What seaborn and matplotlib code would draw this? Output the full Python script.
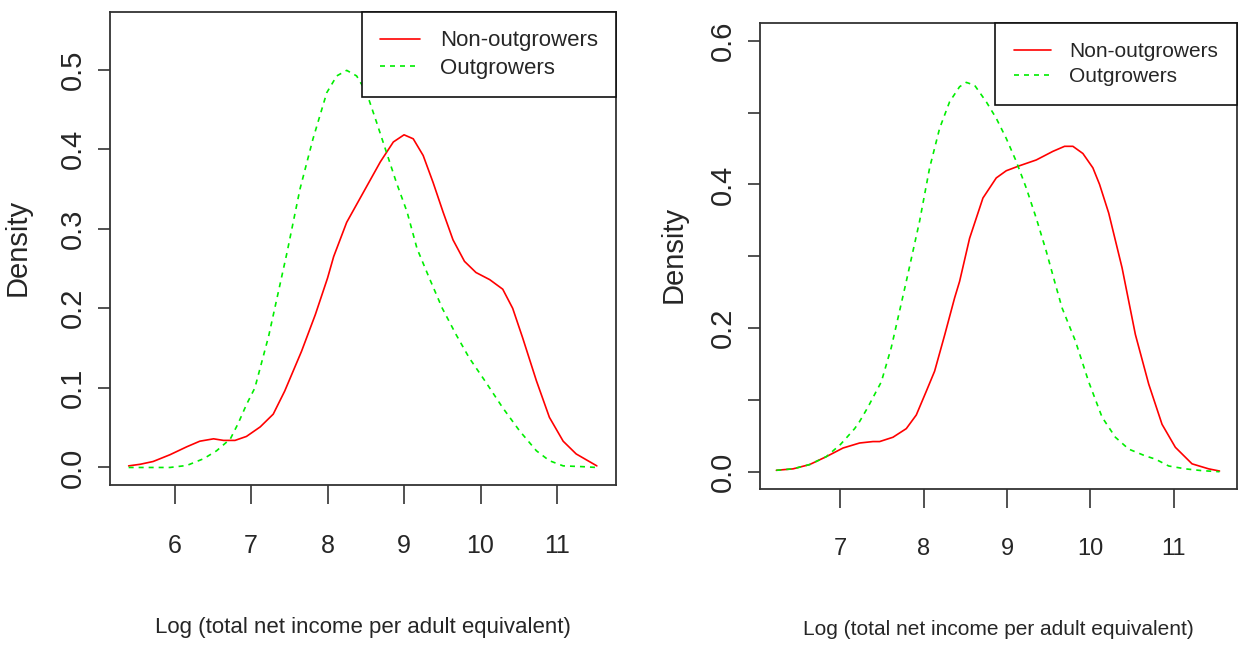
import pandas as pd
import matplotlib
matplotlib.use('Agg')
import matplotlib.pyplot as plt
import seaborn as sns

# left panel: density curves
left_x_non = [5.40, 5.55, 5.72, 5.94, 6.16, 6.33, 6.51, 6.64, 6.79, 6.94, 7.12, 7.29, 7.44, 7.66, 7.84,
              8.00, 8.08, 8.25, 8.47, 8.69, 8.86, 9.00, 9.12, 9.25, 9.38, 9.51, 9.64, 9.79, 9.94,
              10.12, 10.29, 10.42, 10.55, 10.73, 10.90, 11.08, 11.25, 11.52]
left_y_non = [0.002, 0.004, 0.0075, 0.016, 0.026, 0.033, 0.036, 0.034, 0.034, 0.039, 0.051, 0.067, 0.096, 0.146, 0.192,
              0.238, 0.265, 0.308, 0.346, 0.384, 0.409, 0.418, 0.413, 0.392, 0.358, 0.321, 0.286, 0.259, 0.245,
              0.236, 0.224, 0.200, 0.163, 0.109, 0.063, 0.033, 0.017, 0.002]
left_x_out = [5.40, 5.94, 6.16, 6.38, 6.55, 6.73, 6.83, 6.94, 7.05, 7.23, 7.47, 7.64, 7.81, 7.99,
              8.12, 8.25, 8.38, 8.51, 8.64, 8.77, 8.90, 9.04, 9.17, 9.33, 9.50, 9.68, 9.85, 10.07,
              10.29, 10.51, 10.73, 10.90, 11.08, 11.34, 11.52]
left_y_out = [0.0, 0.0, 0.0025, 0.011, 0.021, 0.036, 0.055, 0.079, 0.100, 0.165, 0.270, 0.350, 0.413, 0.471,
              0.492, 0.499, 0.492, 0.471, 0.434, 0.396, 0.358, 0.321, 0.275, 0.238, 0.200, 0.167, 0.138, 0.107,
              0.075, 0.046, 0.021, 0.0085, 0.002, 0.001, 0.0]

# right panel
right_x_non = [6.23, 6.43, 6.63, 6.83, 7.03, 7.23, 7.39, 7.47, 7.63, 7.79, 7.91, 8.03, 8.13, 8.25, 8.37,
               8.43, 8.55, 8.71, 8.87, 8.99, 9.15, 9.35, 9.55, 9.69, 9.79, 9.91, 10.03, 10.11, 10.22,
               10.38, 10.54, 10.70, 10.86, 11.02, 11.22, 11.42, 11.55]
right_y_non = [0.002, 0.004, 0.010, 0.021, 0.033, 0.040, 0.042, 0.042, 0.048, 0.060, 0.079, 0.112, 0.140, 0.190, 0.242,
               0.265, 0.325, 0.381, 0.409, 0.419, 0.426, 0.434, 0.446, 0.453, 0.453, 0.443, 0.423, 0.400, 0.360,
               0.284, 0.191, 0.122, 0.066, 0.034, 0.011, 0.004, 0.001]
right_x_out = [6.23, 6.43, 6.63, 6.83, 6.91, 7.00, 7.07, 7.17, 7.23, 7.33, 7.43, 7.49, 7.61, 7.79, 7.95,
               8.07, 8.19, 8.31, 8.43, 8.51, 8.61, 8.75, 8.87, 8.99, 9.11, 9.23, 9.35, 9.47, 9.57,
               9.66, 9.82, 9.98, 10.14, 10.30, 10.46, 10.66, 10.78, 10.94, 11.14, 11.34, 11.55]
right_y_out = [0.002, 0.004, 0.010, 0.021, 0.029, 0.038, 0.047, 0.060, 0.070, 0.090, 0.112, 0.125, 0.173, 0.265, 0.349,
               0.423, 0.478, 0.515, 0.536, 0.542, 0.538, 0.515, 0.492, 0.464, 0.432, 0.395, 0.353, 0.307, 0.265,
               0.228, 0.182, 0.125, 0.076, 0.048, 0.0315, 0.022, 0.0176, 0.008, 0.004, 0.0015, 0.0]

groups = ['Non-outgrowers', 'Outgrowers']
x_label = 'Log (total net income per adult equivalent)'
left_xticks = [6, 7, 8, 9, 10, 11]
right_xticks = [7, 8, 9, 10, 11]
left_yticks = [0.0, 0.1, 0.2, 0.3, 0.4, 0.5]
right_yticks = [0.0, 0.1, 0.2, 0.3, 0.4, 0.5, 0.6]
right_ylabels = ['0.0', '', '0.2', '', '0.4', '', '0.6']

sns.set_style('white')
plt.rcParams['font.family'] = ['Liberation Sans', 'DejaVu Sans']


def make_df(xn, yn, xo, yo):
    a = pd.DataFrame({'x': xn, 'y': yn, 'group': groups[0]})
    b = pd.DataFrame({'x': xo, 'y': yo, 'group': groups[1]})
    return pd.concat([a, b], ignore_index=True)


def draw_panel(ax, df, xlim, ylim, xticks, yticks, ylabels, tick_fs, lab_fs, leg_fs, leg_kw):
    sns.lineplot(data=df, x='x', y='y', hue='group', style='group',
                 palette={groups[0]: '#FF0000', groups[1]: '#00EE00'},
                 dashes={groups[0]: '', groups[1]: (3, 3)},
                 sort=False, estimator=None, linewidth=1.2, ax=ax)
    ax.set_xlim(*xlim)
    ax.set_ylim(*ylim)
    ax.set_xticks(xticks)
    ax.set_xticklabels([str(t) for t in xticks], fontsize=tick_fs)
    ax.set_yticks(yticks)
    ax.set_yticklabels(ylabels, rotation=90, va='center', fontsize=21)
    ax.tick_params(axis='x', bottom=True, length=14, width=1.2, color='#333333', pad=21)
    ax.tick_params(axis='y', left=True, length=9, width=1.2, color='#333333', pad=8)
    for s in ax.spines.values():
        s.set_visible(True)
        s.set_color('#333333')
        s.set_linewidth(1.3)
    ax.set_xlabel(x_label, fontsize=lab_fs)
    ax.xaxis.set_label_coords(0.5, -0.302)
    ax.xaxis.label.set_va('center')
    ax.set_ylabel('Density', fontsize=21)
    ax.yaxis.set_label_coords(-0.182, 0.503)
    ax.yaxis.label.set_va('center')
    leg = ax.legend(loc='upper right', borderaxespad=0, fancybox=False, fontsize=leg_fs, **leg_kw)
    leg.get_frame().set_edgecolor('#111111')
    leg.get_frame().set_linewidth(1.2)
    leg.get_frame().set_alpha(1)


fig = plt.figure(figsize=(12.38, 6.45), dpi=100)
ax1 = fig.add_axes([0.0889, 0.2481, 0.4087, 0.7329])
ax2 = fig.add_axes([0.6139, 0.2419, 0.3853, 0.7217])

draw_panel(ax1, make_df(left_x_non, left_y_non, left_x_out, left_y_out),
           (5.157, 11.771), (-0.022, 0.572), left_xticks, left_yticks,
           ['%.1f' % t for t in left_yticks], 18, 16, 16,
           dict(handlelength=1.8, handletextpad=0.9, labelspacing=0.28, borderpad=0.82))
draw_panel(ax2, make_df(right_x_non, right_y_non, right_x_out, right_y_out),
           (6.034, 11.76), (-0.024, 0.624), right_xticks, right_yticks,
           right_ylabels, 17, 15, 15,
           dict(handlelength=1.8, handletextpad=0.86, labelspacing=0.29, borderpad=0.9))

fig.savefig('out.png', dpi=100)
